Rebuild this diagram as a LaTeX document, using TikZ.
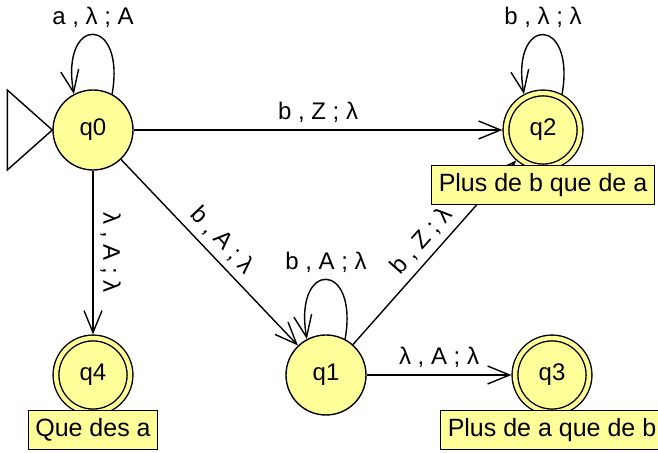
\documentclass[tikz,border=0pt]{standalone}
\usepackage{fontspec}
\setmainfont{Liberation Sans}
\usetikzlibrary{arrows.meta,positioning}
\definecolor{stateyellow}{RGB}{255,255,153}
\begin{document}
\begin{tikzpicture}[x=0.5pt,y=-0.5pt,line width=0.7pt,>={Straight Barb[length=11pt,width=9pt]},
    state node/.style={circle,draw,fill=stateyellow,minimum size=40pt,inner sep=0pt,font=\fontsize{12}{14}\selectfont},
    final node/.style={state node,minimum size=37pt,double=stateyellow,double distance=2.2pt,outer sep=1.8pt},
    note node/.style={rectangle,draw,fill=stateyellow,minimum height=19.5pt,inner xsep=3.5pt,font=\fontsize{12.5}{15}\selectfont}]
      \useasboundingbox (0,0) rectangle (658,453);
      \node[state node] (q0) at (93,130) {q0};
      \node[final node] (q2) [node distance=225pt,right of=q0] {q2};
      \node[final node] (q4) [node distance=122.5pt,below of=q0] {q4};
      \node[state node] (q1) [node distance=116.5pt,right of=q4] {q1};
      \node[final node] (q3) [node distance=113pt,right of=q1] {q3};

      \draw (q0.west) -- ++(-45,-40) -- ++(0,80) -- cycle;

      \path[->,every node/.style={font=\fontsize{12}{14}\selectfont}]
        (q0.62) edge [out=80,in=100,looseness=5.4] node[above] {a , λ ; A} (q0.118)
        (q0) edge node[above] {b , Z ; λ} (q2)
             edge node[sloped,above] {b , A ; λ} (q1)
             edge node[sloped,above] {λ , A ; λ} (q4)
        (q2.62) edge [out=80,in=100,looseness=5.4] node[above] {b , λ ; λ} (q2.118)
        (q1.62) edge [out=80,in=100,looseness=5.4] node[above] {b , A ; λ} (q1.118)
        (q1) edge node[sloped,above] {b , Z ; λ} (q2)
             edge node[above] {λ , A ; λ} (q3);

      \node[note node,below=-3pt of q2] (q2note) {Plus de b que de a};
      \node[note node,below=-3pt of q4] (q4note) {Que des a};
      \node[note node,below=-3pt of q3] (q3note) {Plus de a que de b};
    \end{tikzpicture}
\end{document}
